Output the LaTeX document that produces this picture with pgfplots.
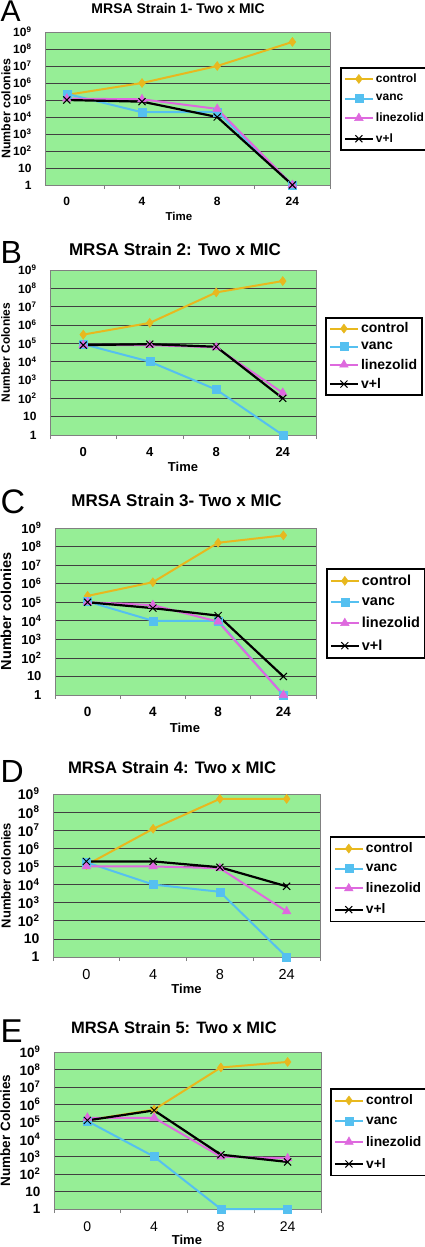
\documentclass[border=0pt]{standalone}
\usepackage{fontspec}
\setmainfont{Liberation Sans}
\usepackage{pgfplots}
\pgfplotsset{compat=1.18}
\definecolor{bggreen}{RGB}{150,238,150}
\definecolor{cctrl}{RGB}{232,184,30}
\definecolor{cvanc}{RGB}{85,192,240}
\definecolor{cline}{RGB}{222,105,222}
\newcommand{\fs}[1]{\fontsize{#1}{#1}\selectfont}
\newcommand{\sx}[1]{10\textsuperscript{#1}}
\pgfplotsset{
  legend image code/.code={\draw[mark repeat=2,mark phase=2,#1] plot coordinates {(0pt,0pt) (14pt,0pt) (28pt,0pt)};},
}
\tikzset{
  ctrlplot/.style={color=cctrl, line width=2pt, mark=diamond*, mark size=4.5pt, mark options={solid, fill=cctrl, line width=0.5pt}},
  vancplot/.style={color=cvanc, line width=2pt, mark=square*, mark size=4pt, mark options={solid, fill=cvanc, line width=0.5pt}},
  lineplot/.style={color=cline, line width=2pt, mark=triangle*, mark size=5pt, mark options={solid, fill=cline, line width=0.5pt}},
  vlplot/.style={color=black, line width=2.2pt, mark=x, mark size=5pt, mark options={solid, line width=1pt}},
  panel/.style={anchor=base west, inner sep=0pt, text depth=0pt},
}
\begin{document}
\begin{tikzpicture}
\useasboundingbox (0pt,0pt) rectangle (425pt,-1247pt);
\node[panel, font=\fs{30}] at (0.5pt,-22pt) {A};
\node[panel, font=\fs{32}] at (0.5pt,-263pt) {B};
\node[panel, font=\fs{34}] at (0.5pt,-513pt) {C};
\node[panel, font=\fs{32}] at (0.5pt,-782pt) {D};
\node[panel, font=\fs{33}] at (0.5pt,-1042pt) {E};

% Panel A
\begin{axis}[scale only axis, ymode=log, ymin=1, ymax=1e9, xmin=-0.29, xmax=3.5,
  at={(45pt,-32pt)}, anchor=north west, width=285pt, height=153pt,
  ytick={1,10,100,1000,10000,100000,1000000,10000000,100000000,1000000000},
  yticklabels={1,10,\sx{2},\sx{3},\sx{4},\sx{5},\sx{6},\sx{7},\sx{8},\sx{9}},
  xtick={0,1,2,3}, xticklabels={0,4,8,24}, minor xtick={0.5,1.5,2.5,3.5}, yminorticks=false,
  xtick pos=bottom, ytick pos=left,
  ymajorgrids, grid style={black!75, line width=0.6pt},
  axis line style={black!50, line width=0.8pt},
  major tick length=0pt, minor tick length=4pt, tick align=outside, minor tick style={black!50, line width=0.8pt},
  axis background/.style={fill=bggreen}, clip=false, legend cell align=left,
  title={MRSA Strain 1- Two x MIC}, title style={at={(axis description cs:0.467,1)}, anchor=base, yshift=12.7pt, font=\bfseries\fs{14}},
  xlabel={Time}, xlabel style={at={(axis description cs:0.47,0)}, anchor=north, yshift=-24pt, font=\bfseries\fs{11.5}},
  ylabel={Number colonies}, ylabel style={at={(axis description cs:-0.137,0.5)}, anchor=center, font=\bfseries\fs{12.4}},
  xticklabel style={yshift=-9pt, font=\bfseries\fs{12}}, yticklabel style={xshift=-10pt, font=\bfseries\fs{12}},
  legend style={at={(axis description cs:1.035,0.771)}, anchor=north west, draw=black, line width=1.6pt, fill=white, inner xsep=3pt, inner ysep=4pt, row sep=6.5pt, font=\bfseries\fs{12}}]
\addplot[ctrlplot] coordinates {(0,2e5)(1,1e6)(2,1e7)(3,2.6e8)};
\addplot[vancplot] coordinates {(0,2.3e5)(1,1.9e4)(2,2e4)(3,1)};
\addplot[lineplot] coordinates {(0,1.2e5)(1,1.1e5)(2,3e4)(3,1)};
\addplot[vlplot] coordinates {(0,1e5)(1,8e4)(2,1e4)(3,1)};
\legend{control,vanc,linezolid,v+l}
\end{axis}

% Panel B
\begin{axis}[scale only axis, ymode=log, ymin=1, ymax=1e9, xmin=-0.5, xmax=3.5,
  at={(50pt,-270pt)}, anchor=north west, width=266pt, height=165pt,
  ytick={1,10,100,1000,10000,100000,1000000,10000000,100000000,1000000000},
  yticklabels={1,10,\sx{2},\sx{3},\sx{4},\sx{5},\sx{6},\sx{7},\sx{8},\sx{9}},
  xtick={0,1,2,3}, xticklabels={0,4,8,24}, minor xtick={-0.5,0.5,1.5,2.5,3.5}, yminorticks=false,
  xtick pos=bottom, ytick pos=left,
  ymajorgrids, grid style={black!75, line width=0.6pt},
  axis line style={black!50, line width=0.8pt},
  major tick length=0pt, minor tick length=4pt, tick align=outside, minor tick style={black!50, line width=0.8pt},
  axis background/.style={fill=bggreen}, clip=false, legend cell align=left,
  title={MRSA Strain 2: Two x MIC}, title style={at={(axis description cs:0.47,1)}, anchor=base, yshift=9pt, font=\bfseries\fs{17}},
  xlabel={Time}, xlabel style={at={(axis description cs:0.5,0)}, anchor=north, yshift=-24pt, font=\bfseries\fs{13}},
  ylabel={Number Colonies}, ylabel style={at={(axis description cs:-0.167,0.5)}, anchor=center, font=\bfseries\fs{12}},
  xticklabel style={yshift=-9pt, font=\bfseries\fs{13}}, yticklabel style={xshift=-10pt, font=\bfseries\fs{12}},
  legend style={at={(axis description cs:1.034,0.715)}, anchor=north west, draw=black, line width=1.6pt, fill=white, inner xsep=3pt, inner ysep=3pt, row sep=3.7pt, font=\bfseries\fs{14}}]
\addplot[ctrlplot] coordinates {(0,3e5)(1,1.3e6)(2,6e7)(3,2.5e8)};
\addplot[vancplot] coordinates {(0,9e4)(1,1e4)(2,300)(3,1)};
\addplot[lineplot] coordinates {(0,8e4)(1,8e4)(2,6e4)(3,200)};
\addplot[vlplot] coordinates {(0,8e4)(1,9e4)(2,6.5e4)(3,100)};
\legend{control,vanc,linezolid,v+l}
\end{axis}

% Panel C
\begin{axis}[scale only axis, ymode=log, ymin=1, ymax=1e9, xmin=-0.5, xmax=3.5,
  at={(55pt,-528pt)}, anchor=north west, width=261pt, height=167pt,
  ytick={1,10,100,1000,10000,100000,1000000,10000000,100000000,1000000000},
  yticklabels={1,10,\sx{2},\sx{3},\sx{4},\sx{5},\sx{6},\sx{7},\sx{8},\sx{9}},
  xtick={0,1,2,3}, xticklabels={0,4,8,24}, minor xtick={-0.5,0.5,1.5,2.5,3.5}, yminorticks=false,
  xtick pos=bottom, ytick pos=left,
  ymajorgrids, grid style={black!75, line width=0.6pt},
  axis line style={black!50, line width=0.8pt},
  major tick length=0pt, minor tick length=4pt, tick align=outside, minor tick style={black!50, line width=0.8pt},
  axis background/.style={fill=bggreen}, clip=false, legend cell align=left,
  title={MRSA Strain 3- Two x MIC}, title style={at={(axis description cs:0.466,1)}, anchor=base, yshift=16pt, font=\bfseries\fs{17}},
  xlabel={Time}, xlabel style={at={(axis description cs:0.498,0)}, anchor=north, yshift=-25pt, font=\bfseries\fs{13}},
  ylabel={Number colonies}, ylabel style={at={(axis description cs:-0.188,0.5)}, anchor=center, font=\bfseries\fs{14.5}},
  xticklabel style={yshift=-9pt, font=\bfseries\fs{13.5}}, yticklabel style={xshift=-10pt, font=\bfseries\fs{13}},
  legend style={at={(axis description cs:1.038,0.760)}, anchor=north west, draw=black, line width=1.6pt, fill=white, inner xsep=3pt, inner ysep=4pt, row sep=6.5pt, font=\bfseries\fs{14.5}}]
\addplot[ctrlplot] coordinates {(0,2.2e5)(1,1.2e6)(2,1.6e8)(3,4e8)};
\addplot[vancplot] coordinates {(0,1.1e5)(1,1e4)(2,1e4)(3,1)};
\addplot[lineplot] coordinates {(0,1e5)(1,7e4)(2,9e3)(3,1)};
\addplot[vlplot] coordinates {(0,1e5)(1,4.8e4)(2,1.9e4)(3,10)};
\legend{control,vanc,linezolid,v+l}
\end{axis}

% Panel D
\begin{axis}[scale only axis, ymode=log, ymin=1, ymax=1e9, xmin=-0.5, xmax=3.5,
  at={(53pt,-794pt)}, anchor=north west, width=267pt, height=163pt,
  ytick={1,10,100,1000,10000,100000,1000000,10000000,100000000,1000000000},
  yticklabels={1,10,\sx{2},\sx{3},\sx{4},\sx{5},\sx{6},\sx{7},\sx{8},\sx{9}},
  xtick={0,1,2,3}, xticklabels={0,4,8,24}, minor xtick={-0.5,0.5,1.5,2.5,3.5}, yminorticks=false,
  xtick pos=bottom, ytick pos=left,
  ymajorgrids, grid style={black!75, line width=0.6pt},
  axis line style={black!50, line width=0.8pt},
  major tick length=0pt, minor tick length=4pt, tick align=outside, minor tick style={black!50, line width=0.8pt},
  axis background/.style={fill=bggreen}, clip=false, legend cell align=left,
  title={MRSA Strain 4: Two x MIC}, title style={at={(axis description cs:0.446,1)}, anchor=base, yshift=15pt, font=\bfseries\fs{16.7}},
  xlabel={Time}, xlabel style={at={(axis description cs:0.5,0)}, anchor=north, yshift=-24pt, font=\bfseries\fs{13}},
  ylabel={Number colonies}, ylabel style={at={(axis description cs:-0.176,0.5)}, anchor=center, font=\bfseries\fs{13}},
  xticklabel style={yshift=-9pt, font=\fs{14.5}}, yticklabel style={xshift=-10pt, font=\bfseries\fs{14}},
  legend style={at={(axis description cs:1.037,0.742)}, anchor=north west, draw=black, line width=1.6pt, fill=white, inner xsep=3pt, inner ysep=4pt, row sep=5.7pt, font=\bfseries\fs{13.8}}]
\addplot[ctrlplot] coordinates {(0,1.2e5)(1,1.2e7)(2,5.4e8)(3,5.4e8)};
\addplot[vancplot] coordinates {(0,1.7e5)(1,1e4)(2,4e3)(3,1)};
\addplot[lineplot] coordinates {(0,1e5)(1,1e5)(2,8e4)(3,330)};
\addplot[vlplot] coordinates {(0,1.9e5)(1,1.9e5)(2,9e4)(3,8e3)};
\legend{control,vanc,linezolid,v+l}
\end{axis}

% Panel E
\begin{axis}[scale only axis, ymode=log, ymin=1, ymax=1e9, xmin=-0.5, xmax=3.5,
  at={(54pt,-1052pt)}, anchor=north west, width=267pt, height=157pt,
  ytick={1,10,100,1000,10000,100000,1000000,10000000,100000000,1000000000},
  yticklabels={1,10,\sx{2},\sx{3},\sx{4},\sx{5},\sx{6},\sx{7},\sx{8},\sx{9}},
  xtick={0,1,2,3}, xticklabels={0,4,8,24}, minor xtick={-0.5,0.5,1.5,2.5,3.5}, yminorticks=false,
  xtick pos=bottom, ytick pos=left,
  ymajorgrids, grid style={black!75, line width=0.6pt},
  axis line style={black!50, line width=0.8pt},
  major tick length=0pt, minor tick length=4pt, tick align=outside, minor tick style={black!50, line width=0.8pt},
  axis background/.style={fill=bggreen}, clip=false, legend cell align=left,
  title={MRSA Strain 5: Two x MIC}, title style={at={(axis description cs:0.449,1)}, anchor=base, yshift=13pt, font=\bfseries\fs{16.5}},
  xlabel={Time}, xlabel style={at={(axis description cs:0.498,0)}, anchor=north, yshift=-23pt, font=\bfseries\fs{13}},
  ylabel={Number Colonies}, ylabel style={at={(axis description cs:-0.182,0.5)}, anchor=center, font=\bfseries\fs{13.5}},
  xticklabel style={yshift=-9pt, font=\fs{14}}, yticklabel style={xshift=-10pt, font=\bfseries\fs{13.5}},
  legend style={at={(axis description cs:1.034,0.771)}, anchor=north west, draw=black, line width=1.6pt, fill=white, inner xsep=3pt, inner ysep=4pt, row sep=6.5pt, font=\bfseries\fs{13.8}}]
\addplot[ctrlplot] coordinates {(0,1.2e5)(1,5e5)(2,1.3e8)(3,2.7e8)};
\addplot[vancplot] coordinates {(0,1.1e5)(1,1e3)(2,1)(3,1)};
\addplot[lineplot] coordinates {(0,1.7e5)(1,1.7e5)(2,1e3)(3,8e2)};
\addplot[vlplot] coordinates {(0,1.2e5)(1,4.5e5)(2,1.3e3)(3,5e2)};
\legend{control,vanc,linezolid,v+l}
\end{axis}
\end{tikzpicture}
\end{document}
